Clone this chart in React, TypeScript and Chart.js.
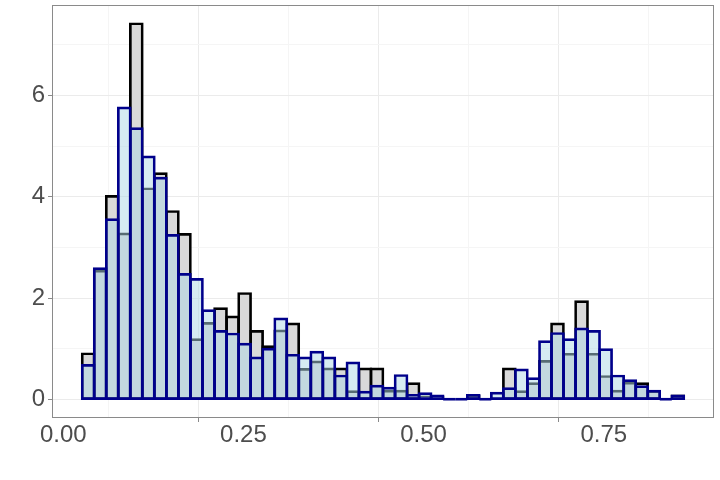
import React, { useEffect, useRef } from "react";
import { Chart, registerables } from "chart.js";

Chart.register(...registerables);

// Bin midpoints (bin width ≈ 0.0167)
const binMids = [
  0.0345, 0.0512, 0.0679, 0.0846, 0.1013, 0.1180, 0.1347, 0.1514, 0.1681, 0.1848,
  0.2015, 0.2182, 0.2349, 0.2516, 0.2683, 0.2850, 0.3017, 0.3184, 0.3351, 0.3518,
  0.3685, 0.3852, 0.4019, 0.4186, 0.4353, 0.4520, 0.4687, 0.4854, 0.5021, 0.5188,
  0.5355, 0.5522, 0.5689, 0.5856, 0.6023, 0.6190, 0.6357, 0.6524, 0.6691, 0.6858,
  0.7025, 0.7192, 0.7359, 0.7526, 0.7693, 0.7860, 0.8027, 0.8194, 0.8361, 0.8528,
];

const greyDensity = [
  0.90, 2.53, 4.01, 3.27, 7.42, 4.16, 4.46, 3.71, 3.26, 1.18,
  1.50, 1.79, 1.63, 2.09, 1.34, 1.04, 1.35, 1.49, 0.59, 0.74,
  0.60, 0.60, 0.15, 0.60, 0.60, 0.16, 0.16, 0.31, 0.05, 0.05,
  0, 0, 0.07, 0, 0, 0.60, 0.15, 0.31, 0.75, 1.49,
  0.89, 1.93, 0.89, 0.45, 0.16, 0.32, 0.31, 0.15, 0, 0.07,
];

const blueDensity = [
  0.67, 2.58, 3.55, 5.76, 5.35, 4.79, 4.37, 3.24, 2.47, 2.37,
  1.75, 1.34, 1.29, 1.09, 0.82, 0.99, 1.59, 0.87, 0.82, 0.93,
  0.82, 0.46, 0.72, 0.14, 0.26, 0.22, 0.47, 0.08, 0.11, 0.07,
  0, 0, 0.08, 0, 0.12, 0.21, 0.58, 0.41, 1.14, 1.30,
  1.18, 1.39, 1.34, 0.98, 0.46, 0.37, 0.25, 0.16, 0, 0.07,
];

const xMajorTicks = [0, 0.25, 0.5, 0.75];
const xMinorTicks = [0.125, 0.375, 0.625, 0.875];
const yMajorTicks = [0, 2, 4, 6];
const yMinorTicks = [1, 3, 5, 7];

const X_MIN = -0.0157;
const X_MAX = 0.903;
const Y_MIN = -0.371;
const Y_MAX = 7.79;

const FONT = { family: "'Liberation Sans', Arial, sans-serif", size: 24 };
const TEXT = "#4d4d4d";
const BORDER = "#8a8a8a";
const NAVY = "#00008B";

const panelBorder = {
  id: "panelBorder",
  afterDraw(chart: any) {
    const { ctx, chartArea } = chart;
    ctx.save();
    ctx.strokeStyle = BORDER;
    ctx.lineWidth = 1;
    ctx.strokeRect(
      Math.round(chartArea.left) + 0.5,
      Math.round(chartArea.top) + 0.5,
      Math.round(chartArea.right - chartArea.left) - 1,
      Math.round(chartArea.bottom - chartArea.top) - 1
    );
    ctx.restore();
  },
};

export default function App() {
  const ref = useRef<HTMLCanvasElement | null>(null);

  useEffect(() => {
    if (!ref.current) return;
    const isMajorX = (v: number) => xMajorTicks.some((t) => Math.abs(t - v) < 1e-9);
    const isMajorY = (v: number) => yMajorTicks.some((t) => Math.abs(t - v) < 1e-9);
    const common = {
      grouped: false,
      barPercentage: 1,
      categoryPercentage: 1,
      borderSkipped: false,
    };
    // fill layer: exact rectangle
    const fillStyle = { ...common, borderWidth: 0, inflateAmount: 0 };
    // outline layer: ring centred on the rectangle edge (~2.7px)
    const lineStyle = {
      ...common,
      borderWidth: 0.1,
      inflateAmount: 1.3,
      backgroundColor: "rgba(0,0,0,0)",
    };
    const pts = (vals: number[]) => binMids.map((x, i) => ({ x, y: vals[i] }));
    const chart = new Chart(ref.current, {
      type: "bar",
      data: {
        datasets: [
          {
            // empty bins still show their outline as a flat line on the baseline
            label: "blue empty bins",
            data: pts(blueDensity),
            ...fillStyle,
            minBarLength: 2.6,
            backgroundColor: (c: any) => (c.raw && c.raw.y === 0 ? NAVY : "rgba(0,0,0,0)"),
            order: 0,
          } as any,
          { label: "blue outline", data: pts(blueDensity), borderColor: NAVY, order: 1, ...lineStyle } as any,
          { label: "blue", data: pts(blueDensity), backgroundColor: "rgba(173,216,230,0.5)", order: 2, ...fillStyle } as any,
          { label: "grey outline", data: pts(greyDensity), borderColor: "#000000", order: 3, ...lineStyle } as any,
          { label: "grey", data: pts(greyDensity), backgroundColor: "#D9D9D9", order: 4, ...fillStyle } as any,
        ],
      },
      options: {
        animation: false,
        responsive: false,
        maintainAspectRatio: false,
        layout: { padding: { top: 5, right: 6, left: 0, bottom: 0 } },
        plugins: {
          legend: { display: false },
          tooltip: { enabled: false },
        },
        scales: {
          x: {
            type: "linear",
            min: X_MIN,
            max: X_MAX,
            offset: false,
            afterBuildTicks: (scale: any) => {
              scale.ticks = [...xMajorTicks, ...xMinorTicks]
                .sort((a, b) => a - b)
                .map((v) => ({ value: v }));
            },
            afterFit: (scale: any) => {
              scale.height = 62;
              scale.paddingLeft = 0;
              scale.paddingRight = 0;
            },
            ticks: {
              autoSkip: false,
              maxRotation: 0,
              padding: -1,
              color: TEXT,
              font: FONT,
              callback: (v: any) => (isMajorX(Number(v)) ? Number(v).toFixed(2) : ""),
            },
            grid: {
              color: (c: any) => (isMajorX(c.tick?.value) ? "#EBEBEB" : "#F5F5F5"),
              lineWidth: 1,
              tickLength: 4,
              tickColor: (c: any) => (isMajorX(c.tick?.value) ? BORDER : "rgba(0,0,0,0)"),
            },
            border: { display: false },
          },
          y: {
            type: "linear",
            min: Y_MIN,
            max: Y_MAX,
            afterBuildTicks: (scale: any) => {
              scale.ticks = [...yMajorTicks, ...yMinorTicks]
                .sort((a, b) => a - b)
                .map((v) => ({ value: v }));
            },
            afterFit: (scale: any) => {
              scale.width = 52;
              scale.paddingTop = 0;
              scale.paddingBottom = 0;
            },
            ticks: {
              autoSkip: false,
              padding: 3,
              color: TEXT,
              font: FONT,
              callback: (v: any) => (isMajorY(Number(v)) ? String(v) : ""),
            },
            grid: {
              color: (c: any) => (isMajorY(c.tick?.value) ? "#EBEBEB" : "#F5F5F5"),
              lineWidth: 1,
              tickLength: 4,
              tickColor: (c: any) => (isMajorY(c.tick?.value) ? BORDER : "rgba(0,0,0,0)"),
            },
            border: { display: false },
          },
        },
      } as any,
      plugins: [panelBorder],
    });
    return () => chart.destroy();
  }, []);

  return (
    <div style={{ position: "absolute", left: 0, top: 0, width: 720, height: 480, background: "#fff" }}>
      <canvas ref={ref} width={720} height={480} style={{ display: "block" }} />
    </div>
  );
}
